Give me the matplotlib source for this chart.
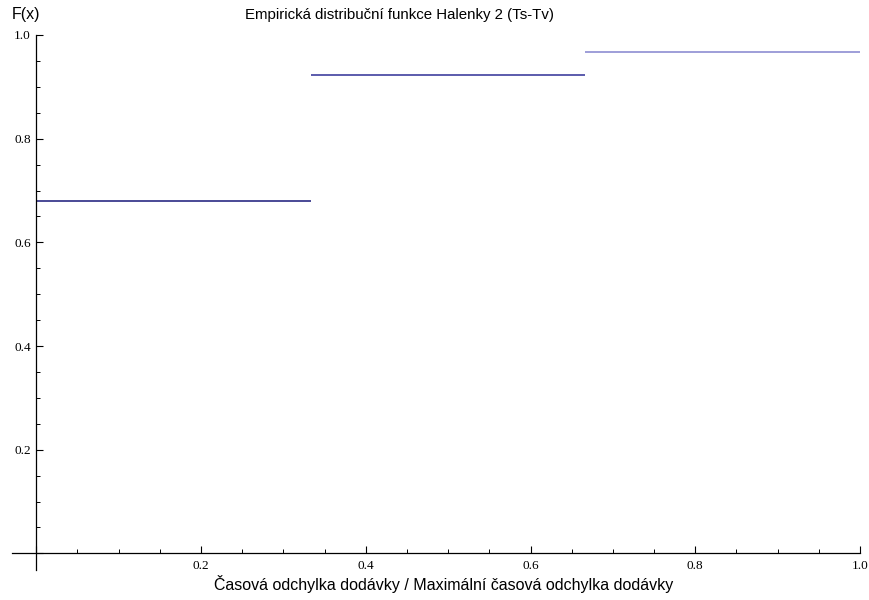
import numpy as np
import matplotlib.pyplot as plt
from matplotlib.ticker import MultipleLocator, FuncFormatter

# empirical CDF steps: interval edges and F(x) levels
edges = [0.0, 1 / 3, 2 / 3, 1.0]
levels = [0.68, 0.922, 0.968]

title = "Empirická distribuční funkce Halenky 2 (Ts-Tv)"
xlabel = "Časová odchylka dodávky / Maximální časová odchylka dodávky"
ylabel = "F(x)"

step_colors = ["#3c3c8e", "#4e4ea6", "#9696d6"]

fig = plt.figure(figsize=(8.7, 6.0), dpi=100)
ax = fig.add_axes([12 / 870, 1 - 570 / 600, (860 - 12) / 870, (570 - 35) / 600])

for x0, x1, y, c in zip(edges[:-1], edges[1:], levels, step_colors):
    ax.hlines(y, x0, x1, colors=c, linewidth=1.3)

ax.set_xlim(-0.0295, 1.0)
ax.set_ylim(-0.032, 1.0)

for side in ("top", "right"):
    ax.spines[side].set_visible(False)
ax.spines["left"].set_position(("data", 0))
ax.spines["bottom"].set_position(("data", 0))
for side in ("left", "bottom"):
    ax.spines[side].set_linewidth(0.9)

ax.xaxis.set_major_locator(MultipleLocator(0.2))
ax.xaxis.set_minor_locator(MultipleLocator(0.05))
ax.yaxis.set_major_locator(MultipleLocator(0.2))
ax.yaxis.set_minor_locator(MultipleLocator(0.05))

fmt = FuncFormatter(lambda v, p: "" if abs(v) < 1e-9 else f"{v:.1f}")
ax.xaxis.set_major_formatter(fmt)
ax.yaxis.set_major_formatter(fmt)

ax.tick_params(which="major", direction="in", length=5, width=0.8,
               labelsize=9.5)
ax.tick_params(axis="x", which="major", pad=5)
ax.tick_params(axis="y", which="major", pad=4)
ax.tick_params(which="minor", direction="in", length=3, width=0.7)
for lab in ax.get_xticklabels() + ax.get_yticklabels():
    lab.set_fontfamily("Liberation Serif")

fig.text(400 / 870, 1 - 15.5 / 600, title, ha="center", va="center",
         fontsize=10.8, family="Liberation Sans")
fig.text(444 / 870, 1 - 584 / 600, xlabel, ha="center", va="center",
         fontsize=11.5, family="Liberation Sans")
fig.text(26.5 / 870, 1 - 14 / 600, ylabel, ha="center", va="center",
         fontsize=11.5, family="Liberation Sans")

fig.savefig("out.png", dpi=100)
